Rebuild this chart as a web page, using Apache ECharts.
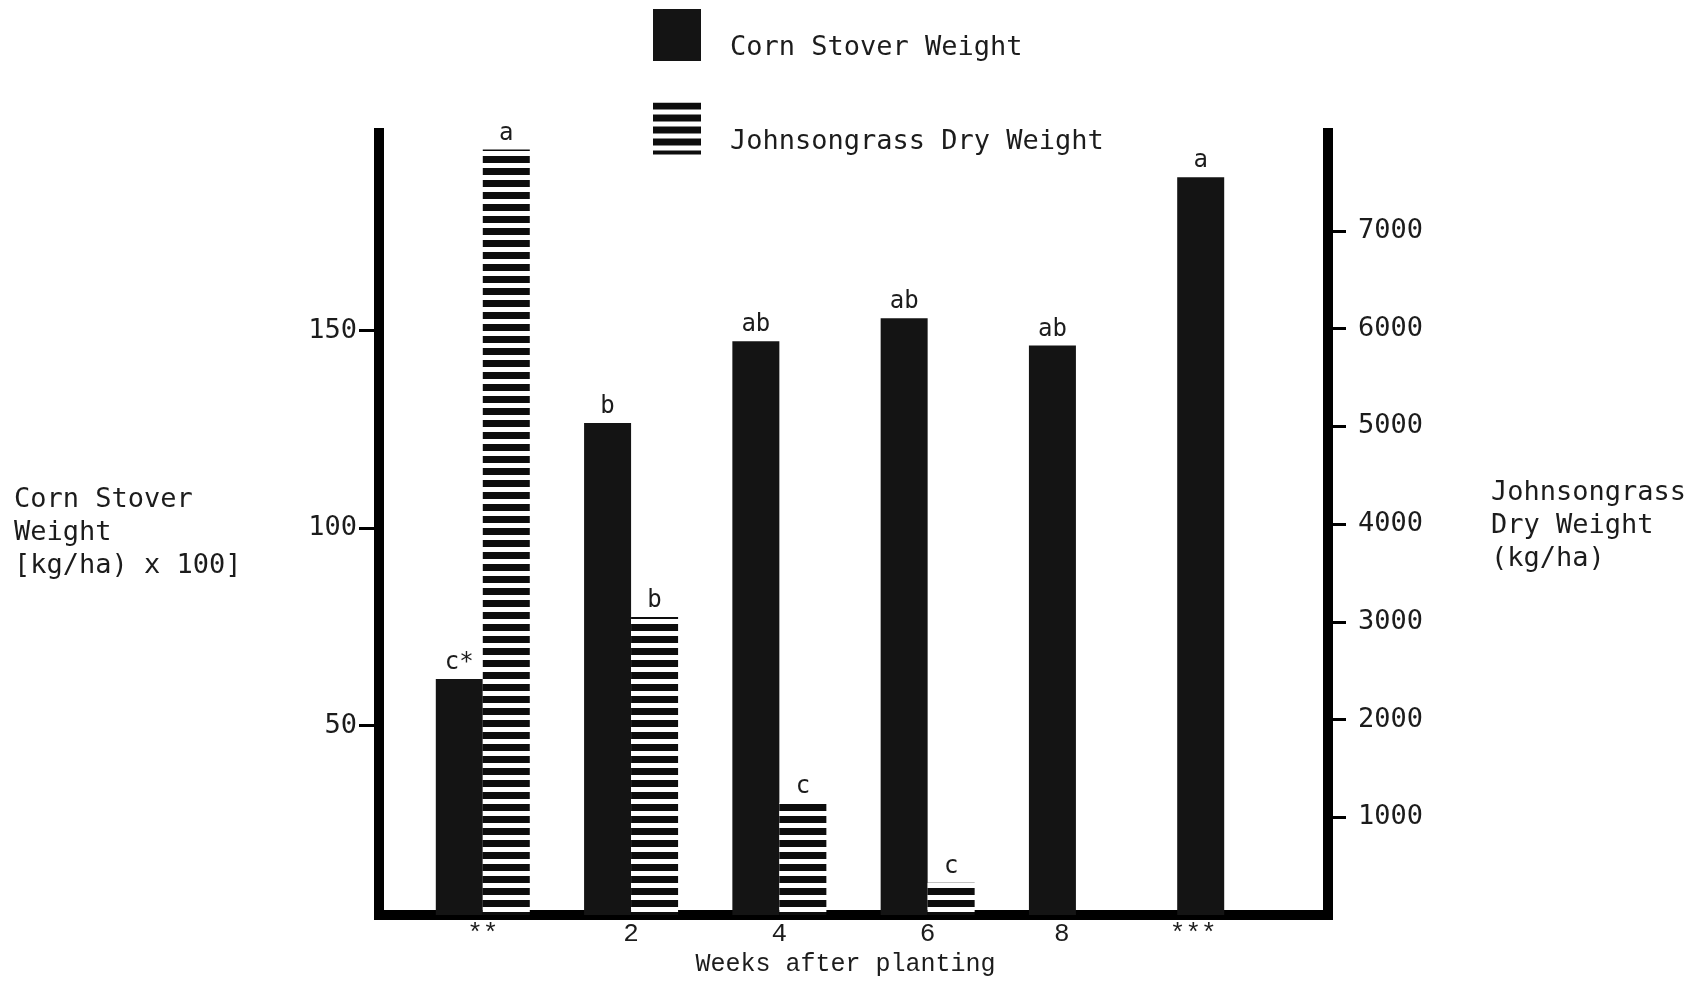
<!DOCTYPE html>
<html>
<head>
<meta charset="utf-8">
<script src="https://cdn.jsdelivr.net/npm/echarts@6/dist/echarts.min.js"></script>
<style>
  html, body { margin: 0; padding: 0; background: #ffffff; }
  #chart { width: 1700px; height: 982px; }
</style>
</head>
<body>
<div id="chart"></div>
<script>
// Weeks after planting (x categories)
const weeks = ['**', '2', '4', '6', '8', '***'];
// Corn stover weight, (kg/ha) x 100 — left axis
const cornStover = [61.8, 126.6, 147.3, 153.1, 146.2, 188.8];
// Johnsongrass dry weight, kg/ha — right axis
const johnsongrass = [7830, 3050, 1150, 330, null, null];
// Mean separation letters
const cornLetters = ['c*', 'b', 'ab', 'ab', 'ab', 'a'];
const grassLetters = ['a', 'b', 'c', 'c', '', ''];
// Tick values
const leftTicks = [50, 100, 150];
const rightTicks = [1000, 2000, 3000, 4000, 5000, 6000, 7000];
const weekPositions = weeks.map((_, i) => i);

const MONO = '"DejaVu Sans Mono", "Liberation Mono", monospace';
const COND = '"Liberation Mono", "DejaVu Sans Mono", monospace';
const INK = '#1c1c1c';

// Horizontal stripe fill for the Johnsongrass bars
function stripePattern() {
  const c = document.createElement('canvas');
  c.width = 8; c.height = 12;
  const g = c.getContext('2d');
  g.fillStyle = '#ffffff';
  g.fillRect(0, 0, 8, 12);
  g.fillStyle = '#0d0d0d';
  g.fillRect(0, 0, 8, 7);
  return c;
}

const chart = echarts.init(document.getElementById('chart'), null, { renderer: 'canvas' });

const axisLine = { show: true, onZero: false, lineStyle: { color: '#000', width: 10, cap: 'square' } };

chart.setOption({
  backgroundColor: '#ffffff',
  animation: false,
  title: [
    {
      text: 'Corn Stover\nWeight\n[kg/ha) x 100]',
      left: 9, top: 478,
      textStyle: { fontFamily: MONO, fontSize: 27, fontWeight: 'normal', color: INK, lineHeight: 33 }
    },
    {
      text: 'Johnsongrass\nDry Weight\n(kg/ha)',
      left: 1486, top: 471,
      textStyle: { fontFamily: MONO, fontSize: 27, fontWeight: 'normal', color: INK, lineHeight: 33 }
    }
  ],
  legend: {
    orient: 'vertical',
    left: 653, top: 9,
    padding: 0,
    icon: 'rect',
    itemWidth: 48, itemHeight: 52,
    itemGap: 41,
    formatter: name => '{gap| }\n{t|' + name + '}',
    textStyle: {
      fontFamily: MONO, fontSize: 27, color: INK,
      rich: {
        gap: { fontSize: 10, lineHeight: 26 },
        t: { fontFamily: MONO, fontSize: 27, color: INK, lineHeight: 33, padding: [0, 0, 0, 24] }
      }
    },
    data: ['Corn Stover Weight', 'Johnsongrass Dry Weight']
  },
  grid: { left: 379, right: 372, top: 133, bottom: 64, containLabel: false },
  xAxis: {
    type: 'value',
    min: -0.7, max: 5.7,
    name: 'Weeks after planting',
    nameLocation: 'middle',
    nameGap: 30,
    nameTextStyle: { fontFamily: COND, fontSize: 25, color: INK, padding: [0, 16, 0, 0] },
    axisLine: { show: true, onZero: false, lineStyle: { color: '#000', width: 10, cap: 'square' } },
    axisTick: { show: false },
    splitLine: { show: false },
    axisLabel: {
      customValues: weekPositions,
      margin: 6,
      fontFamily: COND, fontSize: 26, color: INK,
      formatter: function (v) {
        const i = Math.round(v);
        const key = i === 4 ? 's8' : (i === 5 ? 's9' : 'n');
        return '{' + key + '|' + weeks[i] + '}';
      },
      rich: {
        n: { fontFamily: COND, fontSize: 26, color: INK },
        s8: { fontFamily: COND, fontSize: 26, color: INK, padding: [0, 28, 0, 0] },
        s9: { fontFamily: COND, fontSize: 26, color: INK, padding: [0, 62, 0, 0] }
      }
    }
  },
  yAxis: [
    {
      // printed scale: the 0 of this axis sits just under the baseline
      type: 'value', position: 'left',
      min: 2, max: 200,
      axisLine: axisLine,
      axisTick: { show: true, customValues: leftTicks, length: 20, lineStyle: { color: '#000', width: 3 } },
      splitLine: { show: false },
      axisLabel: { customValues: leftTicks, margin: 22, fontFamily: MONO, fontSize: 27, color: INK }
    },
    {
      type: 'value', position: 'right',
      min: 0, max: 8000, interval: 1000,
      axisLine: axisLine,
      axisTick: { show: true, customValues: rightTicks, length: 18, lineStyle: { color: '#000', width: 3 } },
      splitLine: { show: false },
      axisLabel: {
        customValues: rightTicks, margin: 30, fontFamily: MONO, fontSize: 27, color: INK,
        formatter: v => String(v)
      }
    }
  ],
  series: [
    {
      name: 'Corn Stover Weight',
      type: 'bar',
      yAxisIndex: 0,
      barWidth: 47,
      barGap: '0%',
      clip: true,
      itemStyle: { color: '#141414' },
      label: {
        show: true, position: 'top', distance: 4,
        fontFamily: MONO, fontSize: 24, color: INK,
        formatter: p => cornLetters[p.dataIndex]
      },
      data: weeks.map((_, i) => [i, cornStover[i]])
    },
    {
      name: 'Johnsongrass Dry Weight',
      type: 'bar',
      yAxisIndex: 1,
      barWidth: 47,
      barGap: '0%',
      clip: true,
      itemStyle: { color: { image: stripePattern(), repeat: 'repeat' } },
      label: {
        show: true, position: 'top', distance: 4,
        fontFamily: MONO, fontSize: 24, color: INK,
        formatter: p => grassLetters[p.dataIndex]
      },
      data: weeks.map((_, i) => [i, johnsongrass[i] == null ? '-' : johnsongrass[i]])
    }
  ]
});
</script>
</body>
</html>
